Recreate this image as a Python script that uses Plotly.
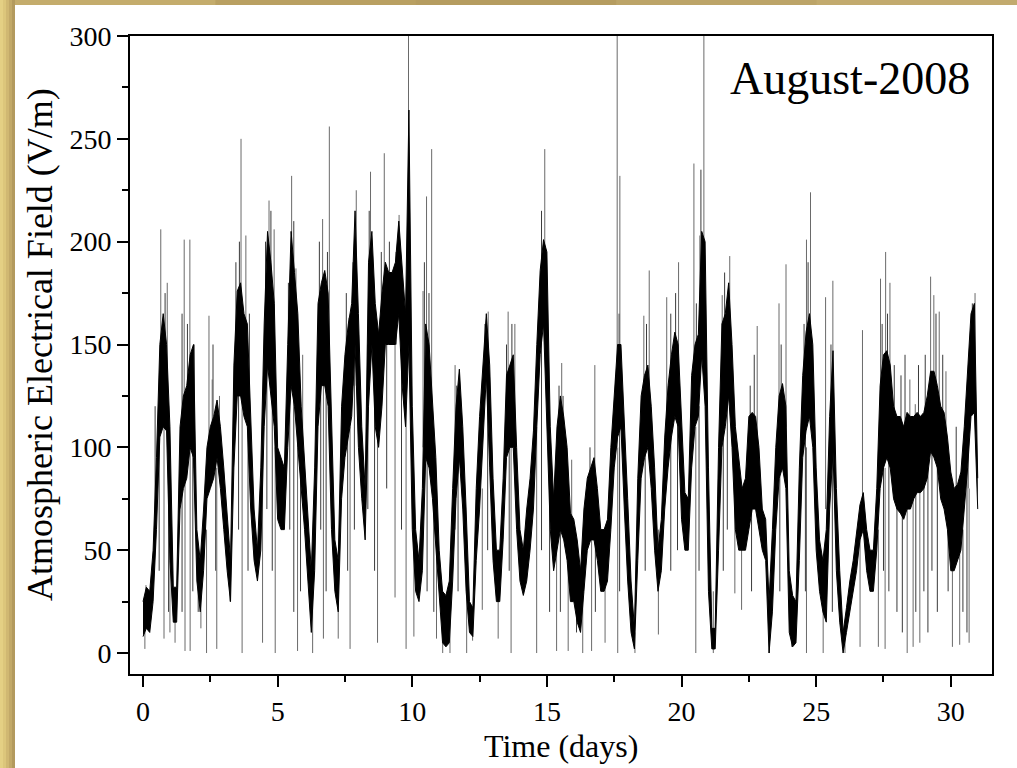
import plotly.graph_objects as go

# ---------------- data ----------------
# band of the dense record, sampled every 1/8 day (t = 0 ... 31), 8 values per row = 1 day
time_step_days = 0.125
band_low = [
    8, 12, 10, 25, 60, 105, 110, 108,      # day 0
    45, 15, 15, 70, 80, 85, 100, 95,       # day 1
    35, 20, 40, 75, 80, 85, 95, 80,        # day 2
    60, 40, 25, 90, 125, 125, 115, 110,    # day 3
    70, 45, 35, 50, 110, 140, 125, 110,    # day 4
    65, 60, 60, 100, 130, 120, 100, 80,    # day 5
    60, 35, 10, 40, 110, 130, 130, 120,    # day 6
    60, 30, 20, 75, 95, 105, 115, 150,     # day 7
    100, 75, 55, 120, 150, 110, 100, 120,  # day 8
    150, 150, 150, 150, 165, 130, 110, 150,  # day 9
    60, 30, 25, 40, 95, 90, 75, 50,        # day 10
    25, 5, 3, 5, 35, 75, 95, 70,           # day 11
    30, 10, 8, 45, 70, 100, 135, 90,       # day 12
    45, 25, 25, 55, 95, 100, 100, 60,      # day 13
    35, 28, 35, 50, 70, 110, 145, 160,     # day 14
    110, 60, 40, 50, 60, 55, 45, 25,       # day 15
    25, 15, 10, 30, 50, 55, 55, 45,        # day 16
    30, 30, 35, 60, 90, 105, 110, 70,      # day 17
    35, 10, 2, 45, 85, 95, 100, 80,        # day 18
    50, 30, 40, 70, 90, 105, 115, 110,     # day 19
    65, 50, 50, 90, 110, 115, 145, 120,    # day 20
    30, 2, 2, 50, 100, 110, 125, 100,      # day 21
    60, 50, 50, 50, 60, 70, 70, 60,        # day 22
    50, 45, 0, 20, 60, 85, 90, 80,         # day 23
    10, 3, 5, 45, 95, 108, 115, 100,       # day 24
    50, 30, 20, 15, 70, 98, 40, 15,        # day 25
    0, 10, 20, 30, 40, 55, 60, 40,         # day 26
    30, 30, 50, 80, 90, 95, 90, 75,        # day 27
    70, 68, 65, 70, 70, 75, 78, 78,        # day 28
    80, 85, 98, 95, 90, 75, 70, 60,        # day 29
    40, 40, 45, 50, 70, 90, 115, 117,      # day 30
    70]
band_high = [
    25, 32, 30, 50, 95, 150, 165, 150,
    110, 32, 32, 110, 125, 130, 145, 150,
    60, 45, 70, 100, 110, 115, 123, 110,
    90, 65, 45, 140, 176, 180, 165, 160,
    110, 70, 50, 90, 160, 205, 190, 170,
    100, 95, 90, 150, 205, 185, 165, 120,
    95, 65, 40, 90, 170, 180, 186, 175,
    110, 55, 45, 120, 145, 160, 170, 215,
    165, 110, 80, 190, 205, 170, 155, 175,
    190, 185, 185, 190, 210, 185, 165, 264,
    120, 60, 45, 80, 160, 150, 125, 95,
    50, 30, 28, 35, 80, 120, 138, 110,
    70, 25, 22, 80, 115, 140, 165, 140,
    85, 50, 50, 85, 135, 140, 145, 100,
    60, 50, 70, 85, 108, 150, 186, 201,
    195, 110, 75, 110, 125, 115, 100, 68,
    65, 55, 40, 70, 85, 90, 95, 80,
    60, 60, 65, 100, 125, 150, 150, 115,
    75, 35, 12, 85, 125, 135, 140, 120,
    90, 50, 65, 105, 130, 145, 156, 150,
    110, 78, 75, 135, 150, 155, 205, 200,
    90, 12, 12, 100, 160, 165, 180, 150,
    110, 95, 80, 85, 115, 117, 115, 100,
    70, 65, 25, 60, 100, 125, 131, 120,
    40, 28, 25, 90, 135, 156, 165, 150,
    90, 55, 45, 60, 115, 147, 80, 40,
    10, 22, 35, 45, 60, 72, 78, 60,
    50, 50, 80, 130, 145, 147, 140, 120,
    115, 115, 110, 117, 115, 115, 117, 115,
    117, 125, 137, 137, 130, 120, 117, 105,
    88, 80, 82, 88, 110, 135, 165, 170,
    85]

# isolated short excursions (day, lowest value, highest value)
spike_t = [0.11, 0.66, 0.90, 1.53, 1.74, 2.45, 2.57, 2.84, 3.64, 3.82,
           4.68, 4.87, 5.52, 5.68, 5.93, 6.67, 6.92, 7.65, 7.92, 8.45,
           8.96, 9.51, 9.86, 10.40, 10.53, 10.72, 11.59, 11.75, 12.82, 13.56,
           13.81, 14.92, 15.55, 15.92, 16.78, 17.61, 17.71, 18.60, 18.80, 19.45,
           19.89, 20.46, 20.68, 20.83, 21.51, 21.79, 22.81, 23.62, 23.88, 24.64,
           24.79, 25.35, 25.62, 26.72, 27.39, 27.58, 27.74, 28.48, 28.68, 29.25,
           29.37, 29.57, 29.82, 30.65, 30.90,
           0.07, 0.78, 1.00, 1.19, 1.56, 1.75, 2.15, 2.36, 2.74, 3.23,
           3.68, 4.44, 4.91, 5.74, 6.30, 6.70, 7.25, 7.69, 8.71, 9.36,
           9.77, 10.06, 10.90, 11.13, 11.40, 12.02, 12.24, 12.60, 13.19, 13.67,
           14.62, 15.36, 15.79, 16.33, 16.66, 17.16, 17.63, 18.27, 19.14, 20.53,
           21.18, 21.98, 22.23, 23.26, 24.09, 24.64, 25.26, 26.07, 26.63, 27.31,
           27.56, 28.38, 28.60, 28.85, 30.06, 30.33, 30.68]
spike_low = [15, 120, 110, 90, 100, 90, 90, 90, 140, 130,
             140, 120, 150, 120, 80, 140, 140, 110, 130, 160,
             160, 170, 150, 100, 110, 100, 60, 100, 130, 110,
             110, 150, 70, 50, 70, 100, 120, 100, 110, 100,
             120, 120, 150, 150, 120, 140, 90, 100, 110, 120,
             130, 70, 100, 70, 90, 110, 110, 90, 90, 110,
             110, 100, 90, 80, 120,
             2, 7, 10, 5, 1, 1, 12, 0, 2, 25,
             0, 5, 0, 1, 0, 7, 7, 2, 5, 27,
             2, 8, 7, 0, 0, 0, 6, 21, 7, 0,
             0, 1, 1, 0, 1, 5, 0, 0, 9, 0,
             0, 29, 21, 0, 3, 0, 0, 0, 3, 3,
             2, 0, 3, 5, 3, 4, 5]
spike_high = [33, 206, 180, 201, 201, 164, 133, 125, 250, 203,
              220, 206, 232, 187, 145, 211, 256, 163, 225, 234,
              243, 213, 300, 176, 222, 245, 140, 138, 166, 166,
              160, 245, 141, 94, 140, 300, 232, 164, 186, 173,
              190, 238, 203, 300, 174, 193, 159, 170, 189, 201,
              224, 173, 181, 157, 182, 195, 180, 133, 121, 183,
              174, 166, 137, 111, 175,
              20, 120, 50, 25, 90, 100, 40, 60, 90, 40,
              130, 90, 100, 110, 30, 130, 30, 110, 110, 150,
              120, 60, 70, 30, 30, 40, 15, 80, 30, 100,
              110, 50, 60, 30, 60, 40, 100, 10, 60, 110,
              30, 80, 70, 20, 30, 100, 30, 10, 60, 60,
              90, 80, 80, 80, 50, 60, 80]

# shorter hair-like excursions around the band (day, lowest value, highest value)
hair_t = [0.45, 0.82, 1.45, 1.65, 1.90, 2.60, 3.45, 3.58, 3.95, 4.55,
          4.75, 5.40, 5.60, 6.55, 6.85, 7.55, 7.80, 8.40, 8.85, 9.15,
          9.40, 10.45, 10.62, 11.65, 12.70, 13.50, 13.70, 14.80, 15.45, 15.60,
          16.60, 17.55, 17.68, 18.70, 19.60, 19.78, 20.55, 20.72, 21.60, 22.55,
          22.70, 23.70, 24.55, 24.70, 25.55, 27.45, 27.65, 27.90, 28.15, 28.30,
          28.80, 29.05, 29.45, 29.70, 30.20, 30.80,
          0.60, 0.95, 1.45, 1.85, 2.05, 2.70, 3.55, 3.90, 4.60, 4.80,
          5.45, 5.60, 5.85, 6.60, 6.80, 7.60, 7.85, 8.35, 8.60, 9.05,
          9.60, 10.55, 10.80, 11.70, 12.80, 13.60, 14.80, 15.10, 15.50, 16.10,
          16.80, 17.70, 18.65, 19.60, 19.85, 20.65, 21.55, 21.70, 22.60, 23.65,
          24.60, 25.60, 27.50, 27.70, 28.00, 28.20, 28.70, 29.00, 29.15, 29.30,
          29.50, 29.90, 30.45, 30.60]
hair_low = [50, 110, 85, 100, 90, 95, 130, 140, 100, 130,
            150, 120, 140, 140, 140, 110, 130, 150, 130, 160,
            150, 110, 100, 90, 130, 110, 110, 160, 80, 90,
            60, 100, 110, 110, 120, 130, 130, 160, 130, 90,
            90, 100, 110, 140, 100, 110, 110, 90, 90, 90,
            90, 100, 110, 100, 65, 130,
            40, 20, 20, 30, 20, 40, 60, 40, 70, 40,
            60, 20, 30, 60, 30, 40, 60, 70, 40, 80,
            60, 30, 20, 30, 50, 40, 50, 20, 20, 10,
            20, 30, 40, 40, 50, 40, 40, 60, 30, 30,
            30, 20, 40, 30, 20, 10, 20, 30, 10, 40,
            20, 30, 20, 10]
hair_high = [120, 175, 165, 160, 150, 150, 190, 200, 165, 200,
             215, 180, 210, 200, 195, 175, 190, 215, 195, 200,
             195, 190, 175, 130, 160, 150, 160, 215, 130, 125,
             100, 135, 165, 160, 165, 175, 170, 235, 185, 130,
             145, 150, 160, 190, 150, 160, 165, 140, 135, 145,
             140, 145, 165, 145, 110, 170,
             120, 120, 100, 120, 45, 100, 150, 130, 160, 140,
             150, 130, 100, 150, 140, 110, 160, 150, 130, 160,
             150, 120, 90, 110, 140, 110, 160, 90, 80, 40,
             70, 120, 110, 120, 130, 120, 130, 140, 90, 100,
             110, 110, 110, 110, 90, 80, 90, 90, 90, 110,
             100, 90, 60, 90]

x_ticks = [0, 5, 10, 15, 20, 25, 30]
y_ticks = [0, 50, 100, 150, 200, 250, 300]

# ---------------- figure ----------------
W, H = 1017, 768
L, R, T, B = 130, 25, 36, 94
PW, PH = W - L - R, H - T - B


def px(x):
    return (x - L) / PW


def py(y):
    return (H - B - y) / PH


t_days = [i * time_step_days for i in range(len(band_low))]

fig = go.Figure()


def segments(ts, los, his):
    xs, ys = [], []
    for t, lo, hi in zip(ts, los, his):
        xs += [t, t, None]
        ys += [lo, hi, None]
    return xs, ys


hx, hy = segments(hair_t, hair_low, hair_high)
fig.add_trace(go.Scatter(x=hx, y=hy, mode="lines",
                         line=dict(color="#3a3a3a", width=1),
                         hoverinfo="skip", showlegend=False))
sx, sy = segments(spike_t, spike_low, spike_high)
fig.add_trace(go.Scatter(x=sx, y=sy, mode="lines",
                         line=dict(color="#6a6a6a", width=1),
                         hoverinfo="skip", showlegend=False))

# dense band
fig.add_trace(go.Scatter(x=t_days, y=band_low, mode="lines",
                         line=dict(color="black", width=1),
                         showlegend=False))
fig.add_trace(go.Scatter(x=t_days, y=band_high, mode="lines",
                         line=dict(color="black", width=1),
                         fill="tonexty", fillcolor="black",
                         showlegend=False))

# golden frame
shapes = []
strip_cols = ["#E4D084", "#DCC67B", "#D0B872", "#C2A968", "#B39A5E"]
for i, c in enumerate(strip_cols):
    shapes.append(dict(type="rect", xref="paper", yref="paper", layer="below",
                       x0=px(i * 3), x1=px(i * 3 + 3), y0=py(H), y1=py(0),
                       fillcolor=c, line=dict(width=0)))
top_cols = ["#C4AC6C", "#B9A062", "#B59C60", "#BCA468", "#C2AA6E"]
seg = (W - 15) / len(top_cols)
for i, c in enumerate(top_cols):
    shapes.append(dict(type="rect", xref="paper", yref="paper", layer="below",
                       x0=px(15 + i * seg), x1=px(15 + (i + 1) * seg + 1),
                       y0=py(5), y1=py(0),
                       fillcolor=c, line=dict(width=0)))

font_family = "Liberation Serif, Times New Roman, serif"

fig.update_layout(
    width=W, height=H,
    margin=dict(l=L, r=R, t=T, b=B),
    paper_bgcolor="white", plot_bgcolor="white",
    shapes=shapes,
    font=dict(family=font_family, color="black"),
    xaxis=dict(range=[-0.483, 31.53], tickvals=x_ticks, ticks="outside",
               ticklen=11, tickwidth=1.5, tickcolor="black",
               minor=dict(dtick=2.5, tick0=0, ticks="outside", ticklen=6,
                          tickwidth=1.5, tickcolor="black"),
               showline=True, linecolor="black", linewidth=2, mirror=True,
               showgrid=False, zeroline=False,
               tickfont=dict(size=28, family=font_family)),
    yaxis=dict(range=[-10.2, 300], tickvals=y_ticks, ticks="outside",
               ticklen=11, tickwidth=1.5, tickcolor="black",
               minor=dict(dtick=25, tick0=0, ticks="outside", ticklen=6,
                          tickwidth=1.5, tickcolor="black"),
               showline=True, linecolor="black", linewidth=2, mirror=True,
               showgrid=False, zeroline=False,
               tickfont=dict(size=28, family=font_family)),
    annotations=[
        dict(text="August-2008", xref="paper", yref="paper",
             x=px(972), y=py(78), xanchor="right", yanchor="middle",
             showarrow=False, font=dict(size=46, family=font_family)),
        dict(text="Time (days)", xref="paper", yref="paper",
             x=px(561), y=py(746), xanchor="center", yanchor="middle",
             showarrow=False, font=dict(size=32, family=font_family)),
        dict(text="Atmospheric Electrical Field (V/m)", xref="paper", yref="paper",
             x=px(40), y=py(345), xanchor="center", yanchor="middle",
             textangle=-90, showarrow=False,
             font=dict(size=36, family=font_family)),
    ],
)

fig.write_html("out.html",
               config={"displayModeBar": False},
               post_script="document.body.style.margin='0px';"
                           "document.body.style.overflow='hidden';")
